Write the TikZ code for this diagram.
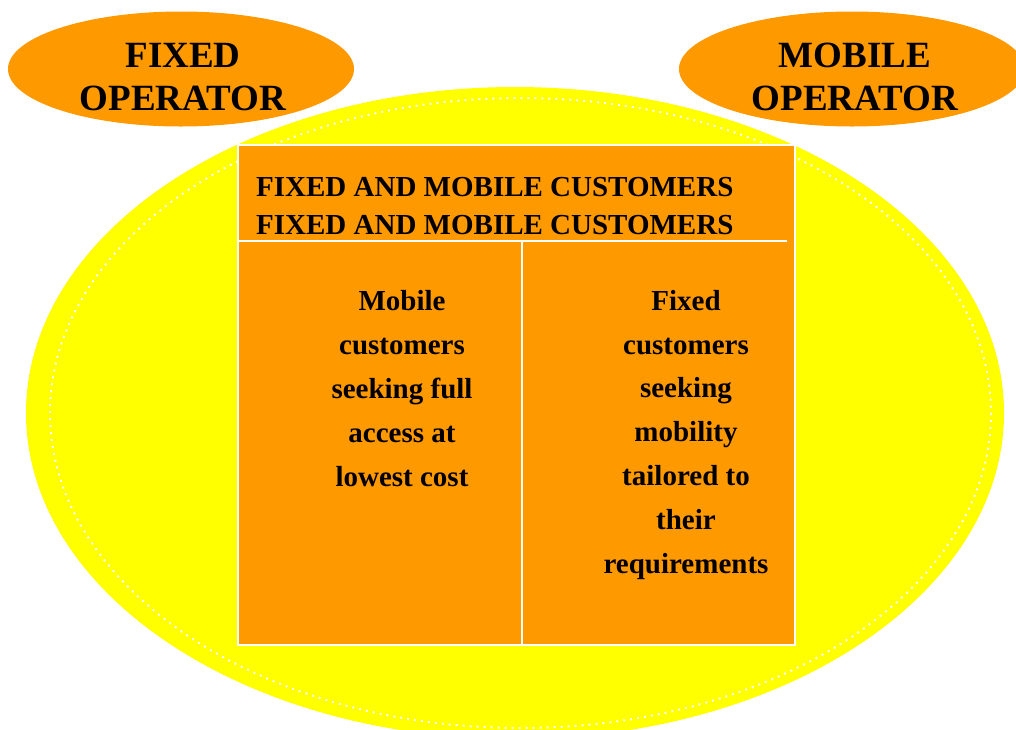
\documentclass[tikz,border=0pt]{standalone}
\usepackage{fontspec}
\setmainfont{Liberation Serif}
\usetikzlibrary{shapes.geometric}
\definecolor{color1}{HTML}{FF9900}
\definecolor{color2}{HTML}{FFFF00}

\begin{document}
\begin{tikzpicture}[x=1pt,y=-1pt,
  operator/.style={ellipse,fill=color1,minimum width=346pt,minimum height=115pt,inner sep=0pt},
  optext/.style={align=center,anchor=base,inner sep=0pt,font=\bfseries\fontsize{37}{43}\selectfont},
  headtext/.style={align=left,anchor=base west,inner sep=0pt,font=\bfseries\fontsize{29}{38}\selectfont},
  celltext/.style={align=center,anchor=base,inner sep=0pt,font=\bfseries\fontsize{29}{43.8}\selectfont},
  whiteline/.style={white,line width=1.2pt}]
\useasboundingbox (0,0) rectangle (1016,729);
\clip (0,0) rectangle (1016,729);
% market
\node[ellipse,fill=color2,minimum width=978pt,minimum height=652pt,inner sep=0pt] (market) at (515,413) {};
\draw[white,line width=2pt,dash pattern=on 2pt off 5pt] (520.5,413) ellipse [x radius=470.5, y radius=315];
% operators
\node[operator] (fixedop) at (181,69) {}; \node[optext] (fixedlbl) at (183,110) {FIXED\\OPERATOR};
\node[operator] (mobileop) at (852,69) {}; \node[optext] (mobilelbl) at (855,110) {MOBILE\\OPERATOR};
% customers box
\node[draw=white,fill=color1,line width=1.2pt,minimum width=557pt,minimum height=500pt,inner sep=0pt] (customers) at (516.5,395) {};
\coordinate (hdr) at (787,241); \coordinate (split) at (522,241);
\draw[whiteline] (customers.west |- hdr) -- (hdr);
\draw[whiteline] (split) -- (split |- customers.south);
\node[headtext] (header) at (256,234) {FIXED AND MOBILE CUSTOMERS\\FIXED AND MOBILE CUSTOMERS};
\node[celltext] (mobiletxt) at (402,486) {Mobile\\customers\\seeking full\\access at\\lowest cost};
\node[celltext] (fixedtxt) at (686,573) {Fixed\\customers\\seeking\\mobility\\tailored to\\their\\requirements};
\end{tikzpicture}
\end{document}
